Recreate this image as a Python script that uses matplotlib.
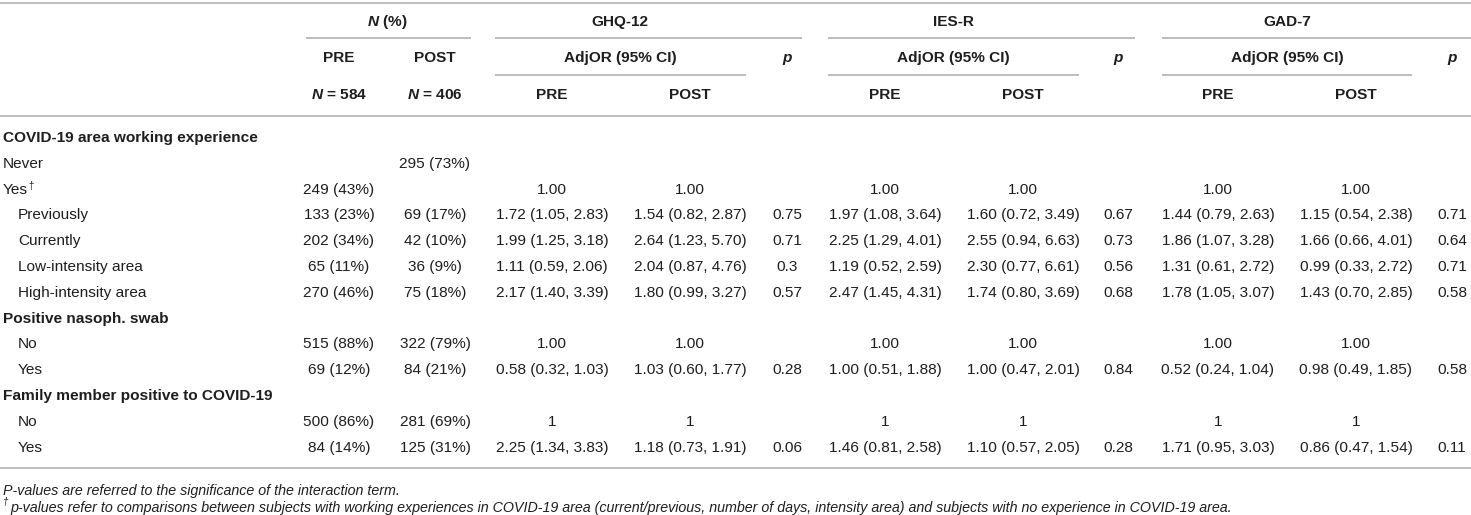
import matplotlib
matplotlib.use("Agg")
import matplotlib.pyplot as plt

plt.rcParams['font.family'] = ['Liberation Sans', 'DejaVu Sans']
plt.rcParams['mathtext.fontset'] = 'custom'
plt.rcParams['mathtext.it'] = 'Liberation Sans:italic:bold'
plt.rcParams['mathtext.rm'] = 'Liberation Sans:bold'

# row labels; kind 0 = section header, 1 = plain, 2 = indented
labels = ["COVID-19 area working experience", "Never", "Yes", "Previously", "Currently",
          "Low-intensity area", "High-intensity area", "Positive nasoph. swab", "No", "Yes",
          "Family member positive to COVID-19", "No", "Yes"]
kinds = [0, 1, 1, 2, 2, 2, 2, 0, 2, 2, 0, 2, 2]
dagger_rows = [2]

n_pre = ["", "", "249 (43%)", "133 (23%)", "202 (34%)", "65 (11%)", "270 (46%)", "",
         "515 (88%)", "69 (12%)", "", "500 (86%)", "84 (14%)"]
n_post = ["", "295 (73%)", "", "69 (17%)", "42 (10%)", "36 (9%)", "75 (18%)", "",
          "322 (79%)", "84 (21%)", "", "281 (69%)", "125 (31%)"]
ghq_pre = ["", "", "1.00", "1.72 (1.05, 2.83)", "1.99 (1.25, 3.18)", "1.11 (0.59, 2.06)",
           "2.17 (1.40, 3.39)", "", "1.00", "0.58 (0.32, 1.03)", "", "1", "2.25 (1.34, 3.83)"]
ghq_post = ["", "", "1.00", "1.54 (0.82, 2.87)", "2.64 (1.23, 5.70)", "2.04 (0.87, 4.76)",
            "1.80 (0.99, 3.27)", "", "1.00", "1.03 (0.60, 1.77)", "", "1", "1.18 (0.73, 1.91)"]
ghq_p = ["", "", "", "0.75", "0.71", "0.3", "0.57", "", "", "0.28", "", "", "0.06"]
ies_pre = ["", "", "1.00", "1.97 (1.08, 3.64)", "2.25 (1.29, 4.01)", "1.19 (0.52, 2.59)",
           "2.47 (1.45, 4.31)", "", "1.00", "1.00 (0.51, 1.88)", "", "1", "1.46 (0.81, 2.58)"]
ies_post = ["", "", "1.00", "1.60 (0.72, 3.49)", "2.55 (0.94, 6.63)", "2.30 (0.77, 6.61)",
            "1.74 (0.80, 3.69)", "", "1.00", "1.00 (0.47, 2.01)", "", "1", "1.10 (0.57, 2.05)"]
ies_p = ["", "", "", "0.67", "0.73", "0.56", "0.68", "", "", "0.84", "", "", "0.28"]
gad_pre = ["", "", "1.00", "1.44 (0.79, 2.63)", "1.86 (1.07, 3.28)", "1.31 (0.61, 2.72)",
           "1.78 (1.05, 3.07)", "", "1.00", "0.52 (0.24, 1.04)", "", "1", "1.71 (0.95, 3.03)"]
gad_post = ["", "", "1.00", "1.15 (0.54, 2.38)", "1.66 (0.66, 4.01)", "0.99 (0.33, 2.72)",
            "1.43 (0.70, 2.85)", "", "1.00", "0.98 (0.49, 1.85)", "", "1", "0.86 (0.47, 1.54)"]
gad_p = ["", "", "", "0.71", "0.64", "0.71", "0.58", "", "", "0.58", "", "", "0.11"]

groups = ["GHQ-12", "IES-R", "GAD-7"]
footnote1 = "P-values are referred to the significance of the interaction term."
footnote2 = ("p-values refer to comparisons between subjects with working experiences in "
             "COVID-19 area (current/previous, number of days, intensity area) and subjects "
             "with no experience in COVID-19 area.")

# layout (pixel coords)
W, H = 1471, 515
fs = 11.1
fs_note = 10.3
txt = "#1e1e1e"
rule = "#bdbdbd"
col_x = [339, 435, 552, 690, 787, 885, 1023, 1118, 1218, 1356, 1452]
group_x = [620, 953, 1287]
row_y0, row_dy = 138, 25.8

fig = plt.figure(figsize=(W / 100, H / 100), dpi=100)
ax = fig.add_axes([0, 0, 1, 1])
ax.set_xlim(0, W)
ax.set_ylim(H, 0)
ax.axis("off")

def hline(y, x0, x1):
    ax.plot([x0, x1], [y, y], color=rule, lw=1.4, solid_capstyle="butt")

# rules
hline(3, 0, W)
hline(38, 306, 471)
hline(38, 495, 802)
hline(38, 828, 1135)
hline(38, 1162, W)
hline(75, 495, 746)
hline(75, 828, 1079)
hline(75, 1162, 1412)
hline(116, 0, W)
hline(468, 0, W)

# header
hdr = dict(fontsize=fs, color=txt, ha="center", va="center", fontweight="bold")
ax.text(387, 22, "$N$ (%)", **hdr)
for gx, g in zip(group_x, groups):
    ax.text(gx, 22, g, **hdr)
    ax.text(gx, 58, "AdjOR (95% CI)", **hdr)
ax.text(col_x[0], 58, "PRE", **hdr)
ax.text(col_x[1], 58, "POST", **hdr)
ax.text(col_x[0], 95, "$N$ = 584", **hdr)
ax.text(col_x[1], 95, "$N$ = 406", **hdr)
for i in (4, 7, 10):
    ax.text(col_x[i], 58, "p", fontstyle="italic", **hdr)
for i in (2, 5, 8):
    ax.text(col_x[i], 95, "PRE", **hdr)
    ax.text(col_x[i + 1], 95, "POST", **hdr)

# body
columns = [n_pre, n_post, ghq_pre, ghq_post, ghq_p, ies_pre, ies_post, ies_p,
           gad_pre, gad_post, gad_p]
for r, (lab, k) in enumerate(zip(labels, kinds)):
    y = row_y0 + r * row_dy
    x = 18 if k == 2 else 3
    t = ax.text(x, y, lab, fontsize=fs, color=txt, ha="left", va="center",
                fontweight="bold" if k == 0 else "normal")
    if r in dagger_rows:
        ax.annotate("†", xy=(1, 1), xycoords=t, fontsize=7, color=txt,
                    ha="left", va="top", xytext=(0.5, 1), textcoords="offset points")
    for cx, col in zip(col_x, columns):
        if col[r]:
            ax.text(cx, y, col[r], fontsize=fs, color=txt, ha="center", va="center")

# footnotes
ax.text(3, 491, footnote1, fontsize=fs_note, color=txt, style="italic", ha="left", va="center")
ax.text(3, 502, "†", fontsize=7, color=txt, style="italic", ha="left", va="center")
ax.text(10, 508, footnote2, fontsize=fs_note, color=txt, style="italic", ha="left", va="center")

fig.savefig("out.png", dpi=100, facecolor="white")
